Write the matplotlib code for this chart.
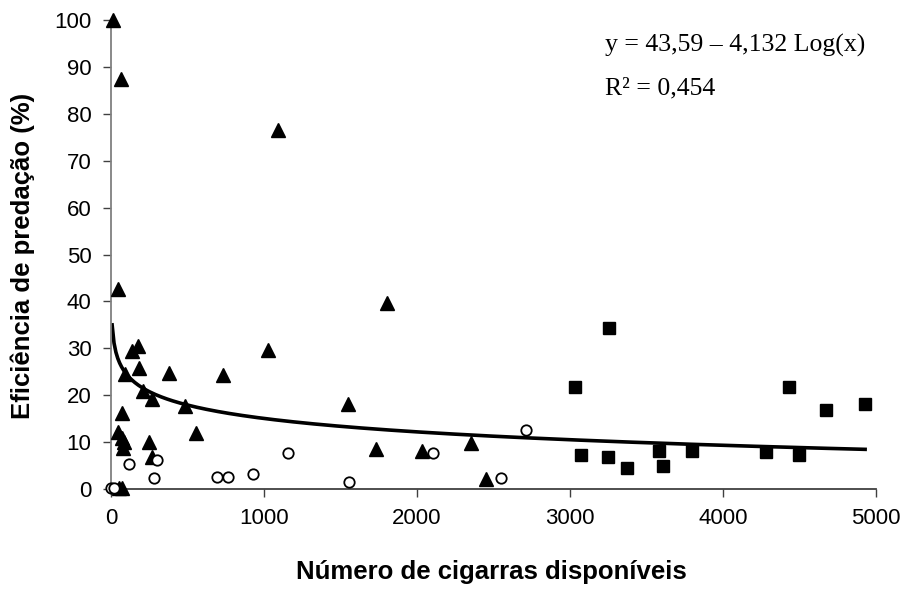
import numpy as np
import matplotlib.pyplot as plt

# Data
# triangles (filled)
tri_x = [15, 63, 1094, 48, 179, 135, 185, 92, 379, 735, 1029, 207, 266, 484,
         70, 556, 44, 70, 87, 81, 251, 270, 1807, 1552, 1731, 2032, 2354, 2453,
         50, 72]
tri_y = [100, 87.4, 76.5, 42.6, 30.6, 29.4, 25.9, 24.5, 24.7, 24.3, 29.6, 21.0,
         19.3, 17.6, 16.3, 11.9, 12.2, 10.8, 10.1, 8.7, 10.1, 6.9, 39.7, 18.1,
         8.5, 8.2, 9.9, 2.1, 0.2, 0.2]

# circles (open)
circ_x = [2, 18, 118, 299, 283, 691, 767, 931, 1160, 1557, 2104, 2549, 2714]
circ_y = [0.2, 0.2, 5.3, 6.2, 2.3, 2.6, 2.6, 3.1, 7.7, 1.4, 7.7, 2.3, 12.6]

# squares (filled)
sq_x = [3259, 3035, 3072, 3248, 3372, 3580, 3606, 3798, 4282, 4432, 4498, 4674, 4931]
sq_y = [34.3, 21.8, 7.2, 6.9, 4.4, 8.1, 4.8, 8.1, 7.8, 21.8, 7.2, 16.8, 18.1]

# fitted trend: y = 43.59 - 4.132 ln(x)
a, b = 43.59, 4.132
trend_x = np.linspace(8, 4930, 400)
trend_y = a - b * np.log(trend_x)

plt.rcParams['font.family'] = ['Liberation Sans', 'DejaVu Sans']

fig = plt.figure(figsize=(9.09, 5.92), dpi=100)
ax = fig.add_axes([0.122, 0.174, 0.8415, 0.792])

ax.plot(trend_x, trend_y, color='black', linewidth=2.6, zorder=2)
ax.plot(tri_x, tri_y, linestyle='none', marker='^', markersize=10,
        color='black', clip_on=False, zorder=3)
ax.plot(sq_x, sq_y, linestyle='none', marker='s', markersize=8,
        color='black', clip_on=False, zorder=3)
ax.plot(circ_x, circ_y, linestyle='none', marker='o', markersize=7.5,
        markerfacecolor='white', markeredgecolor='black', markeredgewidth=1.3,
        clip_on=False, zorder=3)

ax.set_xlim(0, 5000)
ax.set_ylim(0, 100)
ax.set_xticks(range(0, 5001, 1000))
ax.set_yticks(range(0, 101, 10))

for s in ['top', 'right']:
    ax.spines[s].set_visible(False)
ax.spines['left'].set_color('#808080')
ax.spines['bottom'].set_color('#404040')
ax.spines['left'].set_linewidth(1.3)
ax.spines['bottom'].set_linewidth(1.3)
ax.tick_params(direction='out', length=6, width=1, colors='#404040',
               labelcolor='black', labelsize=16, pad=8)

ax.set_xlabel('Número de cigarras disponíveis', fontsize=18.5, fontweight='bold',
              va='center')
ax.xaxis.set_label_coords(0.498, -0.176)
ax.set_ylabel('Eficiência de predação (%)', fontsize=18.5, fontweight='bold',
              va='center')
ax.yaxis.set_label_coords(-0.115, 0.497)

fig.text(0.6656, 0.924, 'y = 43,59 – 4,132 Log(x)', fontsize=18.5,
         family='Liberation Serif', va='center')
fig.text(0.6656, 0.851, 'R² = 0,454', fontsize=18.5,
         family='Liberation Serif', va='center')

fig.savefig('out.png', dpi=100)
